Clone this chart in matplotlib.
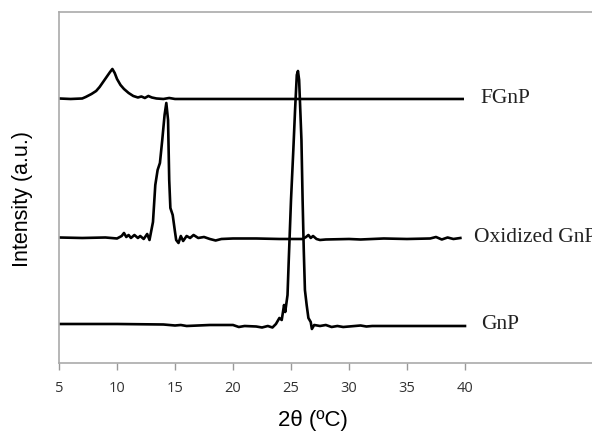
import matplotlib.pyplot as plt

# 2theta positions and intensities (a.u., offsets included)
fgnp_x = [5, 6, 7, 7.3, 7.8, 8.2, 8.5, 8.8, 9.1, 9.4, 9.6, 9.8, 10.0, 10.3, 10.6,
          11.0, 11.4, 11.8, 12.1, 12.4, 12.7, 13.0, 13.4, 14.0, 14.5, 15, 39.8]
fgnp_y = [264.5, 264, 264.5, 266, 269, 272, 276, 281, 286, 291, 294, 290, 284, 278, 274,
          270, 267, 265.5, 266.5, 265, 267, 265.5, 264.5, 264, 265, 264, 264]

oxi_x = [5, 7, 9, 10, 10.4, 10.6, 10.8, 11.0, 11.2, 11.5, 11.8, 12.0, 12.3, 12.6, 12.8,
         13.0, 13.1, 13.3, 13.5, 13.7, 13.9, 14.1, 14.25, 14.4, 14.5, 14.6, 14.8, 15.0,
         15.1, 15.3, 15.5, 15.7, 16.0, 16.3, 16.6, 17.0, 17.5, 18.0, 18.5, 19, 20, 22,
         24, 26, 26.3, 26.5, 26.7, 26.9, 27.2, 27.5, 28, 30, 31, 33, 35, 37, 37.5, 38,
         38.5, 39, 39.6]
oxi_y = [125.5, 125, 125.5, 124.5, 127, 130, 126, 128, 125, 128, 125, 127, 124, 129, 123,
         135, 141, 178, 193, 200, 223, 248, 260, 243, 183, 155, 148, 131,
         123, 120, 127, 122, 127, 125, 128, 125, 126, 124, 122.5, 124, 124.5, 124.5,
         124, 124, 126, 128, 125, 127, 124, 123, 123.5, 124, 123.5, 124.5, 124, 124.5, 126, 123.5,
         125.5, 124, 125]

gnp_x = [5, 10, 14, 15, 15.5, 16, 17, 18, 20, 20.5, 21, 22, 22.5, 23, 23.4, 23.7, 24.0,
         24.2, 24.4, 24.5, 24.7, 24.8, 25.0, 25.2, 25.35, 25.5, 25.6, 25.7, 25.8, 25.9,
         26.0, 26.1, 26.2, 26.35, 26.5, 26.7, 26.8, 27.0, 27.5, 28, 28.5, 29, 29.5, 30,
         31, 31.5, 32, 40]
gnp_y = [39, 39, 38.5, 37.5, 38, 37, 37.5, 38, 38, 36, 37, 36.5, 35.5, 37, 35.5, 39, 45,
         43, 58, 51, 68, 101, 163, 213, 253, 288, 292, 283, 253, 223,
         163, 113, 73, 58, 45, 41, 34, 38, 37, 38, 36, 37, 36, 36.5,
         37.5, 36.5, 37, 37]

labels = ["FGnP", "Oxidized GnP", "GnP"]
label_x = [41.3, 40.8, 41.4]
label_y = [264, 125, 38]
x_ticks = [5, 10, 15, 20, 25, 30, 35, 40]

fig = plt.figure(figsize=(5.92, 4.34), dpi=100)
ax = fig.add_axes([0.0997, 0.1636, 0.9003, 0.8088])

ax.plot(fgnp_x, fgnp_y, color='black', lw=1.9)
ax.plot(oxi_x, oxi_y, color='black', lw=1.9)
ax.plot(gnp_x, gnp_y, color='black', lw=1.9)

# the reference crops "Oxidized GnP" at the right edge
for name, lx, ly in zip(labels, label_x, label_y):
    ax.text(lx, ly, name, family='Liberation Serif', fontsize=15.5, va='center', ha='left',
            color='#222222', clip_on=False)

ax.set_xlim(5, 50.95)
ax.set_ylim(0, 351)
ax.set_xticks(x_ticks)
ax.set_xticklabels([str(t) for t in x_ticks], family='Open Sans', fontsize=10.5, color='#333333')
ax.set_yticks([])
ax.tick_params(axis='x', direction='out', length=5, width=1, color='#999999', pad=8)

for side in ['left', 'bottom', 'top']:
    ax.spines[side].set_color('#aaaaaa')
    ax.spines[side].set_linewidth(1.2)
ax.spines['right'].set_visible(False)

ax.set_xlabel('2θ (ºC)', family='Liberation Sans', fontsize=16)
ax.set_ylabel('Intensity (a.u.)', family='Liberation Sans', fontsize=15.5)
ax.xaxis.set_label_coords(0.477, -0.134)
ax.yaxis.set_label_coords(-0.049, 0.467)

plt.savefig('out.png', dpi=100)
